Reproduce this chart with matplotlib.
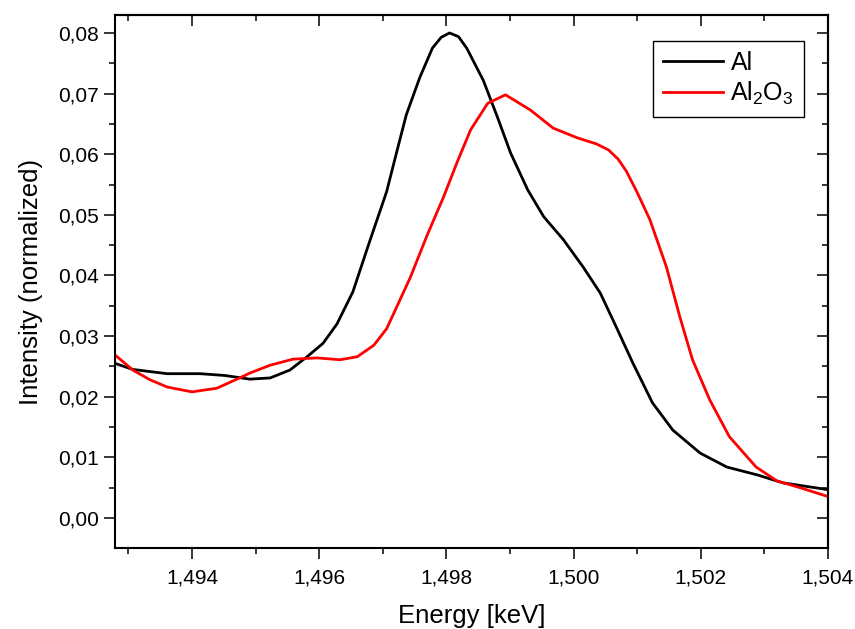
import numpy as np
import matplotlib.pyplot as plt
from matplotlib.ticker import MultipleLocator, FuncFormatter

# --- Spectra: energy [keV] and normalized intensity ---
e_al = [1.49279, 1.49307, 1.49361, 1.49413, 1.49452, 1.49491, 1.49523, 1.49554,
        1.49581, 1.49606, 1.49628, 1.49653, 1.49679, 1.49706, 1.49722, 1.49737,
        1.49758, 1.49778, 1.49792, 1.49805, 1.49819, 1.49832, 1.49858, 1.49880,
        1.49901, 1.49928, 1.49953, 1.49984, 1.50015, 1.50042, 1.50068, 1.50093,
        1.50124, 1.50156, 1.50199, 1.50241, 1.50289, 1.50329, 1.50398]
i_al = [0.0255, 0.0245, 0.0238, 0.0238, 0.0235, 0.0229, 0.0231, 0.0244,
        0.0266, 0.0288, 0.0320, 0.0373, 0.0455, 0.0538, 0.0604, 0.0665,
        0.0726, 0.0775, 0.0793, 0.0800, 0.0794, 0.0775, 0.0722, 0.0662,
        0.0602, 0.0541, 0.0497, 0.0459, 0.0414, 0.0371, 0.0313, 0.0256,
        0.0190, 0.0145, 0.0107, 0.0084, 0.0071, 0.0058, 0.0047]

e_al2o3 = [1.49279, 1.49307, 1.49334, 1.49361, 1.49400, 1.49439, 1.49475, 1.49491,
           1.49523, 1.49559, 1.49597, 1.49633, 1.49660, 1.49686, 1.49706, 1.49743,
           1.49770, 1.49795, 1.49817, 1.49838, 1.49865, 1.49893, 1.49932, 1.49968,
           1.50006, 1.50036, 1.50055, 1.50070, 1.50083, 1.50100, 1.50120, 1.50146,
           1.50167, 1.50187, 1.50214, 1.50245, 1.50287, 1.50320, 1.50356, 1.50398]
i_al2o3 = [0.0269, 0.0244, 0.0228, 0.0216, 0.0208, 0.0214, 0.0231, 0.0239,
           0.0252, 0.0262, 0.0264, 0.0261, 0.0266, 0.0285, 0.0312, 0.0396,
           0.0467, 0.0528, 0.0587, 0.0640, 0.0684, 0.0698, 0.0673, 0.0643,
           0.0627, 0.0617, 0.0607, 0.0592, 0.0572, 0.0537, 0.0492, 0.0414,
           0.0332, 0.0261, 0.0195, 0.0134, 0.0084, 0.0061, 0.0050, 0.0036]

plt.rcParams.update({
    'font.family': ['Liberation Sans', 'DejaVu Sans'],
    'mathtext.default': 'regular',
    'font.size': 15,
})

fig = plt.figure(figsize=(8.55, 6.29), dpi=100)
ax = fig.add_axes([0.1345, 0.1288, 0.8339, 0.8474])

ax.plot(e_al, i_al, color='black', lw=2.0, solid_joinstyle='round', label='Al')
ax.plot(e_al2o3, i_al2o3, color='#ff0000', lw=2.0, solid_joinstyle='round',
        label=r'Al$_2$O$_3$')

ax.set_xlim(1.49279, 1.5040)
ax.set_ylim(-0.00495, 0.08297)

ax.xaxis.set_major_locator(MultipleLocator(0.002))
ax.xaxis.set_minor_locator(MultipleLocator(0.001))
ax.yaxis.set_major_locator(MultipleLocator(0.01))
ax.yaxis.set_minor_locator(MultipleLocator(0.005))
ax.xaxis.set_major_formatter(FuncFormatter(lambda v, p: f'{v:.3f}'.replace('.', ',')))
ax.yaxis.set_major_formatter(FuncFormatter(lambda v, p: f'{v:.2f}'.replace('.', ',')))

ax.tick_params(which='major', direction='out', length=7.7, width=1.1, labelsize=15, pad=4)
ax.tick_params(which='minor', direction='out', length=4, width=1.1)
ax.tick_params(axis='x', pad=7)
for s in ax.spines.values():
    s.set_linewidth(1.5)

# top and right ticks point inward, without labels
top = ax.secondary_xaxis('top')
right = ax.secondary_yaxis('right')
top.xaxis.set_major_locator(MultipleLocator(0.002))
top.xaxis.set_minor_locator(MultipleLocator(0.001))
right.yaxis.set_major_locator(MultipleLocator(0.01))
right.yaxis.set_minor_locator(MultipleLocator(0.005))
for sec in (top, right):
    sec.tick_params(which='major', direction='in', length=7.7, width=1.1,
                    labeltop=False, labelright=False)
    sec.tick_params(which='minor', direction='in', length=4, width=1.1)
    for s in sec.spines.values():
        s.set_linewidth(1.5)

ax.set_xlabel('Energy [keV]', fontsize=18.5, labelpad=12)
ax.set_ylabel('Intensity (normalized)', fontsize=18.5, labelpad=11)

leg = ax.legend(loc='upper right', bbox_to_anchor=(0.9663, 0.951), fontsize=18,
                frameon=True, fancybox=False, framealpha=1, edgecolor='black',
                handlelength=2.4, handletextpad=0.3, borderpad=0.4,
                labelspacing=0.2, borderaxespad=0)
leg.get_frame().set_linewidth(1.0)

fig.savefig('out.png', dpi=100)
